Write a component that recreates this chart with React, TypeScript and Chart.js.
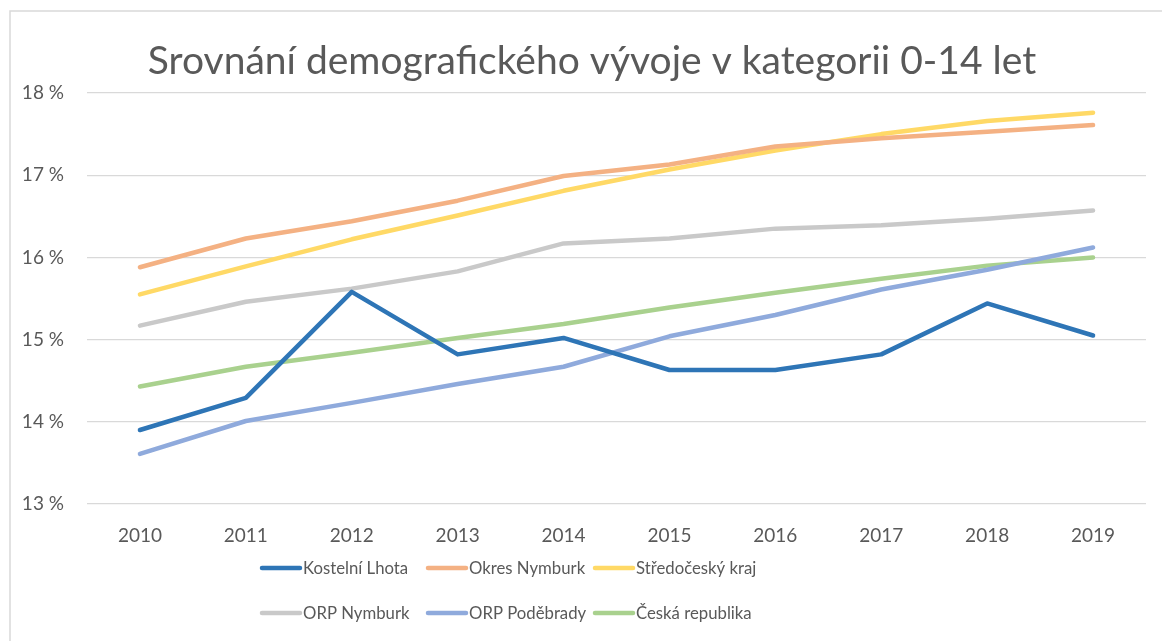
import React, { useEffect, useRef } from "react";
import { Chart, registerables } from "chart.js";

Chart.register(...registerables);

const title = "Srovnání demografického vývoje v kategorii 0-14 let";
const years = ["2010", "2011", "2012", "2013", "2014", "2015", "2016", "2017", "2018", "2019"];
const seriesNames = ["Kostelní Lhota", "Okres Nymburk", "Středočeský kraj", "ORP Nymburk", "ORP Poděbrady", "Česká republika"];
const seriesColors = ["#2E75B6", "#F4B183", "#FFD966", "#C9C9C9", "#8FAADC", "#A9D18E"];
const kostelniLhota = [13.9, 14.29, 15.58, 14.82, 15.02, 14.63, 14.63, 14.82, 15.44, 15.05];
const okresNymburk = [15.88, 16.23, 16.44, 16.69, 16.99, 17.13, 17.35, 17.45, 17.53, 17.61];
const stredoceskyKraj = [15.55, 15.89, 16.22, 16.51, 16.81, 17.07, 17.3, 17.5, 17.66, 17.76];
const orpNymburk = [15.17, 15.46, 15.62, 15.83, 16.17, 16.23, 16.35, 16.39, 16.47, 16.57];
const orpPodebrady = [13.61, 14.01, 14.23, 14.46, 14.67, 15.04, 15.3, 15.61, 15.85, 16.12];
const ceskaRepublika = [14.43, 14.67, 14.84, 15.02, 15.19, 15.39, 15.57, 15.74, 15.9, 16.0];
const seriesValues = [kostelniLhota, okresNymburk, stredoceskyKraj, orpNymburk, orpPodebrady, ceskaRepublika];
const yMin = 13;
const yMax = 18;

const FONT = "Lato, 'Open Sans', sans-serif";
const TEXT = "#595959";

const framePlugin = {
  id: "frame",
  beforeDraw(chart: any) {
    const ctx = chart.ctx;
    ctx.save();
    ctx.fillStyle = "#ffffff";
    ctx.fillRect(0, 0, chart.width, chart.height);
    ctx.strokeStyle = "#D9D9D9";
    ctx.lineWidth = 1.5;
    ctx.beginPath();
    ctx.moveTo(10, chart.height + 5);
    ctx.lineTo(10, 11);
    ctx.lineTo(chart.width + 5, 11);
    ctx.stroke();
    // title
    ctx.fillStyle = TEXT;
    ctx.font = `39px ${FONT}`;
    ctx.textAlign = "center";
    ctx.textBaseline = "alphabetic";
    ctx.fillText(title, 592, 74);
    ctx.restore();
  },
};

const legendPlugin = {
  id: "gridLegend",
  afterDraw(chart: any) {
    const ctx = chart.ctx;
    ctx.save();
    ctx.font = `18px ${FONT}`;
    ctx.textBaseline = "middle";
    ctx.textAlign = "left";
    const colX = [260, 426, 593];
    const rowY = [568, 613];
    chart.data.datasets.forEach((ds: any, i: number) => {
      const x = colX[i % 3];
      const y = rowY[Math.floor(i / 3)];
      ctx.strokeStyle = ds.borderColor;
      ctx.lineWidth = 4.5;
      ctx.lineCap = "round";
      ctx.beginPath();
      ctx.moveTo(x + 2, y);
      ctx.lineTo(x + 40, y);
      ctx.stroke();
      ctx.save();
      ctx.translate(x + 43, y);
      ctx.scale(0.93, 1);
      ctx.fillStyle = TEXT;
      ctx.fillText(ds.label, 0, 0);
      ctx.restore();
    });
    ctx.restore();
  },
};

export default function App() {
  const ref = useRef<HTMLCanvasElement>(null);
  useEffect(() => {
    document.body.style.margin = "0";
    const chart = new Chart(ref.current as HTMLCanvasElement, {
      type: "line",
      data: {
        labels: years,
        datasets: seriesNames.map((name, i) => ({
          label: name,
          data: seriesValues[i],
          borderColor: seriesColors[i],
          backgroundColor: seriesColors[i],
          borderWidth: 4.5,
          borderCapStyle: "round" as const,
          borderJoinStyle: "round" as const,
          pointRadius: 0,
          tension: 0,
        })),
      },
      options: {
        responsive: false,
        animation: false,
        layout: { padding: { left: 0, top: 93, right: 16, bottom: 0 } },
        plugins: {
          legend: { display: false },
          title: { display: false },
          tooltip: { enabled: false },
        },
        scales: {
          x: {
            offset: true,
            grid: { display: false, drawTicks: false },
            border: { display: false },
            ticks: { color: TEXT, font: { family: FONT, size: 19 }, padding: 20, maxRotation: 0 },
            afterFit: (s: any) => { s.height = 137; },
          },
          y: {
            min: yMin,
            max: yMax,
            grid: { color: "#D9D9D9", lineWidth: 1.3, drawTicks: false },
            border: { display: false },
            ticks: {
              stepSize: 1,
              color: TEXT,
              font: { family: FONT, size: 19 },
              padding: 23,
              callback: (v: any) => `${v} %`,
            },
            afterFit: (s: any) => { s.width = 87; },
          },
        },
      },
      plugins: [framePlugin, legendPlugin],
    });
    return () => chart.destroy();
  }, []);
  return <canvas ref={ref} width={1162} height={641} style={{ display: "block" }} />;
}
